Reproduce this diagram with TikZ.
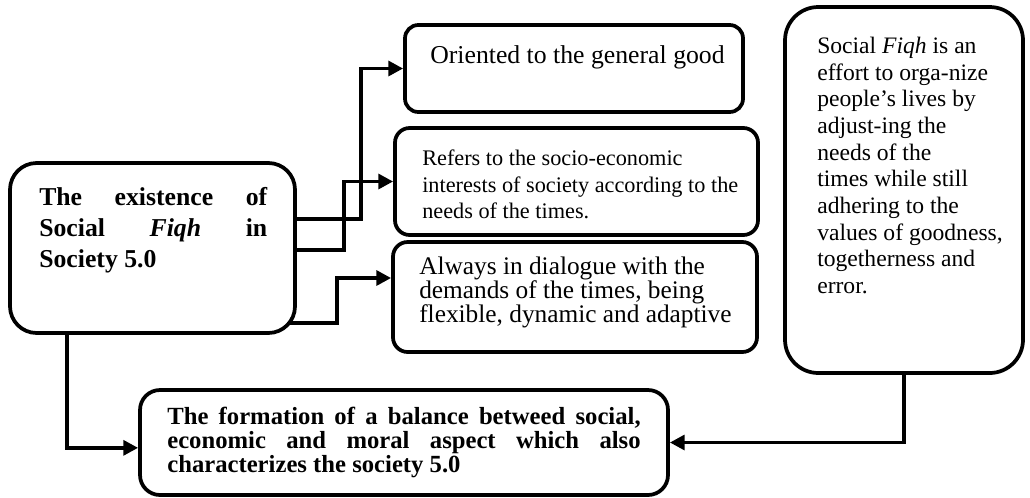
\documentclass[tikz,border=0pt]{standalone}
\usepackage{fontspec}
\setmainfont{Liberation Serif}
\usetikzlibrary{arrows.meta, positioning}
\tikzset{
  rbox/.style={draw=black, line width=2.8pt, rounded corners=#1, inner sep=0},
  rbox/.default=12pt,
  conn/.style={line width=2.8pt, -{Triangle[length=11pt,width=11pt]}},
}
\hyphenpenalty=10000
\exhyphenpenalty=10000
\lineskiplimit=-100pt

\begin{document}
\begin{tikzpicture}[x=0.75pt, y=-0.75pt]
  \useasboundingbox (0,0) rectangle (1030,497);
  %% Boxes
  \node[rbox=20pt, minimum width=213.75pt, minimum height=127.5pt] (exist) at (152.5,248) {};
  \node[rbox=10pt, minimum width=253.5pt, minimum height=65.25pt] (good) at (574,68.5) {};
  \node[rbox=11pt, minimum width=272.25pt, minimum height=80.25pt] (interest) at (576.5,181.5) {};
  \node[rbox=11pt, minimum width=273pt, minimum height=82.5pt] (dialogue) at (575,297) {};
  \node[rbox=15pt, minimum width=396pt, minimum height=78.75pt] (balance) at (404,442.5) {};
  \node[rbox=25pt, minimum width=178.5pt, minimum height=274.5pt] (effort) at (904,190) {};
  %% Texts
  \node[anchor=north west, inner sep=0, text width=171pt, align=justify,
        font=\fontsize{19.3}{23.25}\selectfont\bfseries] (existtxt) at (39,187)
        {The existence of Social \textit{Fiqh} in Society 5.0};
  \node[anchor=base west, inner sep=0, font=\fontsize{19.3}{23}\selectfont] (goodtxt) at (430,63)
        {Oriented to the general good};
  \node[anchor=north west, inner sep=0, align=left, font=\fontsize{16.7}{20}\selectfont] (interesttxt) at (422,149.5)
        {Refers to the socio-economic\\ interests of society according to the\\ needs of the times.};
  \node[anchor=north west, inner sep=0, align=left, font=\fontsize{19}{17.8}\selectfont] (dialoguetxt) at (419,257)
        {Always in dialogue with the\\ demands of the times, being\\ flexible, dynamic and adaptive};
  \node[inner sep=0, text width=355pt, align=justify,
        font=\fontsize{18.5}{17.8}\selectfont\bfseries] (balancetxt) at (404,442.5)
        {The formation of a balance betweed social, economic and moral aspect which also characterizes the society 5.0};
  \node[anchor=north west, inner sep=0, align=left, font=\fontsize{17.7}{20}\selectfont] (efforttxt) at (817,37)
        {Social \textit{Fiqh} is an\\ effort to orga-nize\\ people’s lives by\\ adjust-ing the\\ needs of the\\
         times while still\\ adhering to the\\ values of goodness,\\ togetherness and\\ error.};
  %% Connectors
  \draw[conn] ([yshift=21.75pt]exist.east) -- ++(48pt,0) |- (good.west);
  \draw[conn] ([yshift=-1.5pt]exist.east) -- ++(35.25pt,0) |- (interest.west);
  \draw[conn] ([xshift=-5pt,yshift=-56.25pt]exist.east) -- ++(35pt,0) |- ([yshift=14.25pt]dialogue.west);
  \draw[conn] ([xshift=-64pt]exist.south) |- ([yshift=-4pt]balance.west);
  \draw[conn] (effort.south) |- (balance.east);
\end{tikzpicture}
\end{document}
